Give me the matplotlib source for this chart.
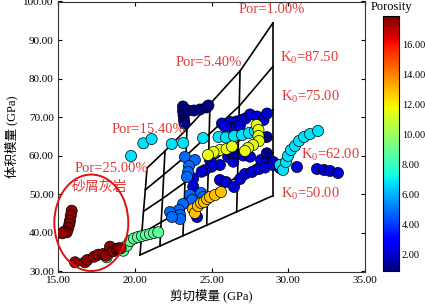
import numpy as np
import matplotlib.pyplot as plt
from matplotlib.patches import Ellipse

plt.rcParams['font.family'] = ['Liberation Serif', 'Noto Sans CJK SC']
plt.rcParams['mathtext.fontset'] = 'custom'
plt.rcParams['mathtext.rm'] = 'Liberation Serif'

# ---- rock-physics template grid (shear, bulk) per porosity line, K0 = 50 -> 100
grid_por = [25.0, 20.0, 15.4, 10.0, 5.4, 1.0]
grid_mu = [
    [20.34, 20.46, 20.57, 20.69, 20.80],
    [21.64, 21.72, 21.81, 21.89, 21.97],
    [23.14, 23.21, 23.27, 23.34, 23.40],
    [24.69, 24.74, 24.80, 24.85, 24.90],
    [26.64, 26.70, 26.75, 26.81, 26.86],
    [29.00, 29.00, 29.00, 29.00, 29.00],
]
grid_k = [
    [34.28, 39.90, 45.60, 51.20, 56.83],
    [36.61, 42.80, 48.90, 55.10, 61.24],
    [39.26, 46.20, 53.10, 60.00, 66.95],
    [42.00, 49.90, 57.70, 65.60, 73.43],
    [45.48, 54.60, 63.70, 72.90, 81.98],
    [49.65, 60.83, 72.00, 83.15, 94.43],
]

# ---- measured samples, grouped by porosity
aqua_mu = [18.17, 19.25, 19.48, 19.69, 19.95, 20.21, 20.47, 20.73, 20.99, 21.25, 21.53]
aqua_k = [33.68, 35.39, 36.69, 37.91, 38.56, 38.94, 39.20, 39.46, 39.72, 39.98, 40.16]

red_mu = [15.89, 15.83, 15.78, 15.74, 15.67, 15.57, 15.39, 15.28,
          16.11, 16.76, 16.91, 17.35, 17.63, 17.95, 18.13, 18.39, 18.60, 18.82, 18.93, 19.08]
red_k = [45.76, 44.47, 43.17, 42.31, 41.28, 40.16, 40.30, 39.90,
         32.39, 32.39, 32.98, 33.84, 34.36, 34.54, 34.10, 36.43, 35.24, 35.83, 36.00, 36.02]

cyan_mu = [19.76, 20.56, 21.10, 22.41, 23.16,
           24.45, 25.46, 25.94, 26.47, 26.99, 27.44, 27.83,
           29.46, 29.66, 29.85, 29.98, 30.18, 30.44, 30.70, 31.03, 31.42, 31.94]
cyan_k = [59.95, 63.24, 64.35, 63.06, 63.32,
          64.61, 64.87, 64.74, 65.13, 65.39, 65.91, 66.43,
          57.61, 56.32, 58.39, 59.95, 61.50, 62.54, 63.83, 64.87, 65.65, 66.43]

navy_mu = [23.14, 23.14, 23.18, 23.21, 23.24, 23.47, 23.86, 24.25, 24.67, 24.80,
           26.42, 26.40, 28.60, 28.60]
navy_k = [72.78, 71.61, 70.45, 69.28, 68.37, 71.74, 71.74, 72.00, 72.52, 73.04,
          61.89, 60.59, 64.87, 60.65]

blue_mu = [25.68, 26.21, 26.63, 26.95, 27.21, 27.51, 27.96, 28.39, 28.62, 26.42, 26.86, 25.88,
           24.90, 26.09, 26.42, 27.07, 27.51, 28.23, 28.62, 29.03, 25.55, 25.01, 24.58, 24.36,
           23.81, 23.81, 25.55, 24.06,
           25.94, 26.47, 26.86, 27.18, 27.64, 28.09, 28.49, 29.01, 29.46, 30.57,
           31.87, 32.33, 32.72, 33.24]
blue_k = [68.37, 68.76, 68.89, 69.28, 69.67, 70.71, 70.19, 69.28, 70.96, 67.13, 67.98, 67.54,
          58.91, 59.69, 58.47, 60.07, 59.76, 58.91, 58.78, 58.39, 57.61, 57.17, 56.32, 55.87,
          54.16, 51.99, 53.72, 44.13,
          53.20, 51.91, 53.98, 55.28, 55.80, 56.57, 56.96, 57.61, 56.83, 57.09,
          56.57, 56.32, 56.06, 55.54]

dodger_mu = [23.27, 23.92, 23.53, 23.47, 23.40, 23.60, 23.73, 24.32, 24.45,
             23.14, 22.88, 22.95, 22.95, 22.30, 22.43]
dodger_k = [59.69, 58.91, 57.35, 55.80, 54.50, 49.83, 48.54, 50.35, 49.32,
            47.50, 45.94, 44.65, 43.61, 45.43, 44.13]

yellow_mu = [27.94, 28.06, 28.06, 28.09, 27.70, 27.38, 27.18, 25.55, 25.13, 24.77, 25.98, 26.34]
yellow_k = [67.98, 66.69, 65.13, 63.83, 62.80, 62.02, 61.24, 61.50, 60.98, 60.20, 61.76, 62.41]

orange_mu = [23.79, 23.92, 24.12, 24.32, 24.51, 24.71, 24.90, 25.23, 25.62]
orange_k = [46.20, 45.17, 46.98, 47.76, 48.02, 48.80, 49.32, 49.83, 50.61]

groups = [
    (blue_mu, blue_k, 2.2),
    (navy_mu, navy_k, 1.0),
    (dodger_mu, dodger_k, 4.8),
    (cyan_mu, cyan_k, 6.8),
    (yellow_mu, yellow_k, 11.6),
    (orange_mu, orange_k, 12.9),
    (aqua_mu, aqua_k, 8.8),
    (red_mu, red_k, 17.6),
]

por_labels = ['Por=25.00%', 'Por=15.40%', 'Por=5.40%', 'Por=1.00%']
k0_labels = ['87.50', '75.00', '62.00', '50.00']

red_txt = '#e03a3a'

fig = plt.figure(figsize=(4.25, 3.08), dpi=100)
ax = fig.add_axes([58 / 425, 1 - 271.5 / 308, 307 / 425, 270 / 308])
cax = fig.add_axes([383 / 425, 1 - 271 / 308, 16 / 425, 255 / 308])

# grid lines
mu = np.array(grid_mu)
kk = np.array(grid_k)
for i in range(mu.shape[0]):
    ax.plot(mu[i], kk[i], color='black', lw=1.2, zorder=2)
for j in range(mu.shape[1]):
    ax.plot(mu[:, j], kk[:, j], color='black', lw=1.2, zorder=2)

vmin, vmax = 0.9, 17.9
sc = None
for xs, ys, p in groups:
    sc = ax.scatter(xs, ys, c=[p] * len(xs), cmap='jet', vmin=vmin, vmax=vmax,
                    s=64, edgecolors='black', linewidths=0.5, zorder=3)

# circled group
ax.add_patch(Ellipse((17.17, 42.63), 4.82, 25.0, fill=False, edgecolor='#e01010',
                     lw=1.4, zorder=4, clip_on=False))

ax.set_xlim(15, 35)
ax.set_ylim(30, 100)
ax.set_xticks(np.arange(15, 36, 5))
ax.set_yticks(np.arange(30, 101, 10))
ax.xaxis.set_major_formatter('{x:.2f}')
ax.yaxis.set_major_formatter('{x:.2f}')
ax.tick_params(direction='in', top=True, right=True, labelsize=8, length=3, pad=3)
for s in ax.spines.values():
    s.set_linewidth(0.8)
    s.set_color('#333333')
ax.set_xlabel('剪切模量 (GPa)', fontsize=9, labelpad=3)
ax.set_ylabel('体积模量 (GPa)', fontsize=9, labelpad=4)

# annotations
ax.text(28.96, 98.0, por_labels[3], color=red_txt, fontsize=10.5, ha='center', va='center')
ax.text(24.84, 84.2, por_labels[2], color=red_txt, fontsize=10.5, ha='center', va='center')
ax.text(20.88, 66.7, por_labels[1], color=red_txt, fontsize=10.5, ha='center', va='center')
ax.text(18.45, 56.6, por_labels[0], color=red_txt, fontsize=10.5, ha='center', va='center')
ax.text(17.67, 51.7, '砂屑灰岩', color=red_txt, fontsize=10, ha='center', va='center')
ax.text(31.38, 85.5, r'K$_\mathregular{0}$=' + k0_labels[0], color=red_txt, fontsize=10.5,
        ha='center', va='center')
ax.text(31.46, 75.4, r'K$_\mathregular{0}$=' + k0_labels[1], color=red_txt, fontsize=10.5,
        ha='center', va='center')
ax.text(32.72, 60.2, r'K$_\mathregular{0}$=' + k0_labels[2], color=red_txt, fontsize=10.5,
        ha='center', va='center', zorder=1)
ax.text(31.42, 50.1, r'K$_\mathregular{0}$=' + k0_labels[3], color=red_txt, fontsize=10.5,
        ha='center', va='center')

cb = fig.colorbar(sc, cax=cax)
cb.set_ticks(np.arange(2, 17, 2))
cb.ax.yaxis.set_major_formatter('{x:.2f}')
cb.ax.tick_params(labelsize=7.5, length=0, pad=2)
cb.outline.set_linewidth(0.8)
cax.set_title('Porosity', fontsize=9, pad=4)

fig.savefig('out.png', dpi=100)
